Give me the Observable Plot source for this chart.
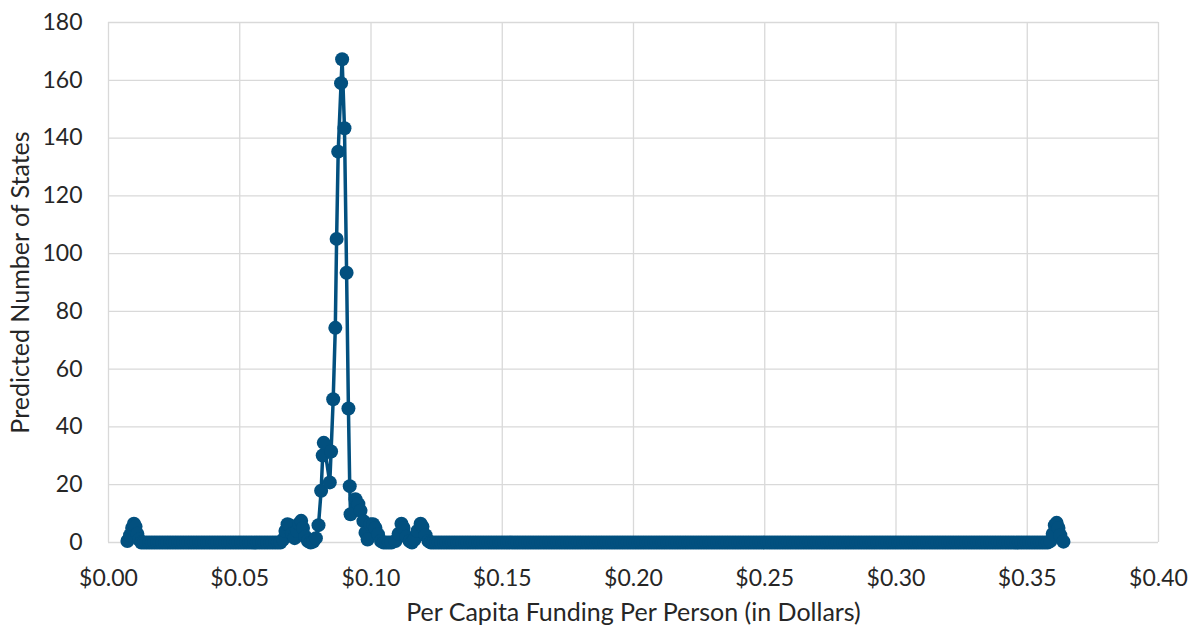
<!DOCTYPE html>
<html><head><meta charset="utf-8">
<script src="https://cdn.jsdelivr.net/npm/d3@7"></script>
<script src="https://cdn.jsdelivr.net/npm/@observablehq/plot@0.6"></script>
<style>body{margin:0;background:#fff} svg{display:block}</style>
</head><body><div id="chart"></div>
<script>
// Non-zero (and nearby) points
const pointX = [
  0.0072, 0.0082, 0.0090, 0.0097, 0.0103, 0.0110, 0.0117,
  0.0665, 0.0674, 0.0682, 0.0690, 0.0699, 0.0709, 0.0718, 0.0726, 0.0734, 0.0741, 0.0750, 0.0760, 0.0770, 0.0780, 0.0790,
  0.0800, 0.0810, 0.0816, 0.0820, 0.0843, 0.0848, 0.0856, 0.0864, 0.0869, 0.0875, 0.0886, 0.0890, 0.0899, 0.0907, 0.0914, 0.0919, 0.0922,
  0.0941, 0.0952, 0.0960, 0.0971, 0.0979, 0.0987, 0.0998, 0.1008, 0.1017, 0.1027, 0.1038,
  0.1093, 0.1105, 0.1116, 0.1124, 0.1135, 0.1147,
  0.1166, 0.1177, 0.1189, 0.1196, 0.1208, 0.1219,
  0.3588, 0.3597, 0.3605, 0.3612, 0.3619, 0.3626, 0.3638
];
const pointY = [
  0.5, 2.5, 5, 6.5, 5.5, 3, 1,
  1, 4, 6.3, 6, 3, 1.5, 4, 6.5, 7.5, 5, 2, 0.5, 0, 0.3, 1.5,
  6, 17.9, 30.1, 34.5, 20.8, 31.5, 49.6, 74.3, 105.1, 135.3, 159, 167.3, 143.4, 93.4, 46.4, 19.5, 9.8,
  15, 13.3, 11, 7.4, 3.4, 1, 6.3, 6.3, 5, 2.8, 0.5,
  0.5, 3, 6.5, 5, 2, 0.5,
  1, 4, 6.5, 5.5, 2.5, 0.5,
  0.5, 3, 6, 6.8, 5, 2.5, 0.3
];
// Long runs where the predicted count is zero (sampled densely in the original)
const zeroRunStart = [0.0125, 0.1048, 0.1156, 0.1228];
const zeroRunEnd   = [0.0655, 0.1085, 0.1156, 0.3580];
const zeroRunStep  = 0.001;

const xTicks = [0, 0.05, 0.10, 0.15, 0.20, 0.25, 0.30, 0.35, 0.40];
const yTicks = [0, 20, 40, 60, 80, 100, 120, 140, 160, 180];
const xTitle = "Per Capita Funding Per Person (in Dollars)";
const yTitle = "Predicted Number of States";

const data = pointX.map((x, i) => ({x, y: pointY[i]}));
zeroRunStart.forEach((s, i) => {
  const e = zeroRunEnd[i];
  for (let x = s; x <= e + 1e-9; x += zeroRunStep) data.push({x, y: 0});
});
data.sort((a, b) => a.x - b.x);

const color = "#02507f";
const grid = "#d9d9d9";
const ink = "#262626";

const chart = Plot.plot({
  width: 1195, height: 629,
  marginLeft: 108, marginRight: 37, marginTop: 22, marginBottom: 87,
  style: {fontFamily: "Lato, 'Open Sans', sans-serif", fontSize: "23px", color: ink, background: "#fff", overflow: "visible"},
  x: {domain: [0, 0.4]},
  y: {domain: [0, 180]},
  marks: [
    Plot.gridX(xTicks, {stroke: grid, strokeOpacity: 1, strokeWidth: 1.3}),
    Plot.gridY(yTicks, {stroke: grid, strokeOpacity: 1, strokeWidth: 1.3}),
    Plot.axisX(xTicks, {tickSize: 0, tickPadding: 27, tickFormat: d => "$" + d.toFixed(2), label: null, fontSize: 23}),
    Plot.axisY(yTicks, {tickSize: 0, tickPadding: 26, label: null, fontSize: 23}),
    Plot.line(data, {x: "x", y: "y", stroke: color, strokeWidth: 3.5}),
    Plot.dot(data, {x: "x", y: "y", r: 7, fill: color, stroke: "none"}),
    Plot.text([xTitle], {frameAnchor: "bottom", dy: 78, fontSize: 25, fill: ink, textAnchor: "middle"}),
    Plot.text([yTitle], {frameAnchor: "left", dx: -88, rotate: -90, fontSize: 25, fill: ink, textAnchor: "middle"})
  ]
});
document.getElementById("chart").append(chart);
</script>
</body></html>
